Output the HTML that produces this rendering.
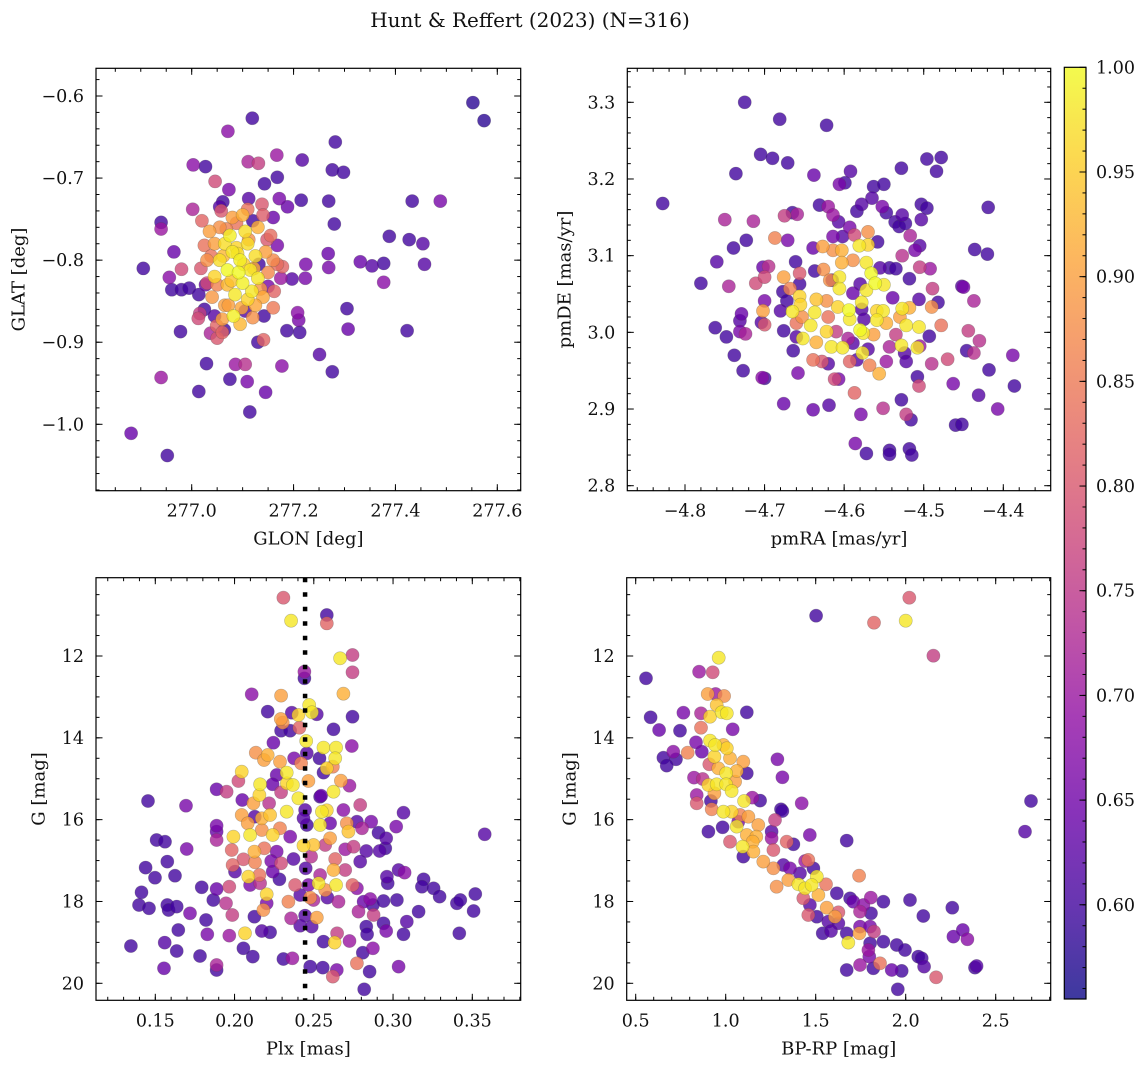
<!DOCTYPE html>
<html><head><meta charset="utf-8"><title>Hunt & Reffert (2023)</title>
<style>
html,body{margin:0;padding:0;background:#fff;}
svg{display:block;font-family:"DejaVu Serif","Liberation Serif",serif;}
</style></head>
<body>
<svg id="fig" xmlns="http://www.w3.org/2000/svg" width="1148" height="1067" viewBox="0 0 1148 1067">
<rect x="0" y="0" width="1148" height="1067" fill="#fff"/>
<text x="530" y="27" font-size="20" text-anchor="middle" fill="#111">Hunt &amp; Reffert (2023) (N=316)</text>
</svg>
<script>
// ===== Panel 1: GLON / GLAT =====
const p1Glon=[277.552,277.574,277.119,277.071,277.282,277.003,277.027,277.111,277.131,277.167,
277.217,277.276,277.298,277.046,277.168,277.143,277.073,277.433,277.488,277.269,
277.215,277.002,277.061,277.138,277.172,277.188,277.280,276.940,276.940,277.388,
277.427,277.454,277.457,277.377,277.354,277.331,277.377,277.268,277.269,277.224,
277.223,277.197,276.905,276.965,276.956,276.980,276.961,276.980,276.995,277.014,
277.027,277.305,277.307,277.423,276.978,277.016,277.013,277.037,277.049,277.064,
277.141,277.187,277.212,277.210,277.208,277.251,277.276,277.177,277.029,277.086,
277.105,277.075,277.109,276.940,277.014,277.145,277.114,276.881,276.952,
277.095,277.080,277.110,277.070,277.115,277.100,277.125,277.085,277.110,277.055,277.130,277.075,277.105,277.118,277.045,277.082,277.065,277.092,
277.045,277.055,277.130,277.145,277.150,277.140,277.065,277.040,277.030,277.100,277.080,277.120,277.095,277.060,277.160,277.035,277.070,277.125,
277.020,277.025,277.018,277.155,277.162,277.140,277.110,277.058,277.168,277.178,277.160,277.050,
277.055,277.120,277.160,277.142,277.045,277.130,277.168,277.025,
277.088,277.102,277.078,277.122,277.062,277.098,277.135,277.050,277.112,277.072,277.090,
277.038,277.148,277.105,277.068,277.132,277.030,277.150,277.088,277.112,277.060,277.175];
const p1Glat=[-0.608,-0.630,-0.627,-0.643,-0.656,-0.684,-0.686,-0.680,-0.682,-0.672,
-0.678,-0.690,-0.693,-0.704,-0.699,-0.707,-0.714,-0.728,-0.728,-0.728,
-0.727,-0.738,-0.729,-0.732,-0.725,-0.735,-0.756,-0.754,-0.762,-0.771,
-0.775,-0.780,-0.805,-0.804,-0.807,-0.802,-0.827,-0.792,-0.809,-0.805,
-0.822,-0.823,-0.810,-0.790,-0.821,-0.811,-0.836,-0.836,-0.834,-0.842,
-0.830,-0.859,-0.884,-0.886,-0.887,-0.865,-0.871,-0.889,-0.880,-0.885,
-0.897,-0.886,-0.888,-0.873,-0.864,-0.915,-0.936,-0.929,-0.926,-0.927,
-0.927,-0.945,-0.948,-0.943,-0.960,-0.961,-0.985,-1.011,-1.038,
-0.800,-0.790,-0.780,-0.812,-0.812,-0.828,-0.795,-0.842,-0.848,-0.800,-0.822,-0.770,-0.765,-0.838,-0.820,-0.868,-0.780,-0.815,
-0.780,-0.760,-0.760,-0.790,-0.815,-0.845,-0.855,-0.845,-0.800,-0.745,-0.748,-0.870,-0.878,-0.872,-0.800,-0.765,-0.830,-0.855,
-0.752,-0.782,-0.810,-0.770,-0.838,-0.745,-0.738,-0.740,-0.805,-0.808,-0.858,-0.895,
-0.735,-0.752,-0.748,-0.868,-0.868,-0.900,-0.782,-0.860,
-0.785,-0.805,-0.825,-0.810,-0.795,-0.858,-0.835,-0.830,-0.775,-0.855,-0.792,
-0.795,-0.775,-0.862,-0.762,-0.805,-0.828,-0.832,-0.755,-0.725,-0.888,-0.822];
const p1Prob=[.58,.58,.6,.68,.6,.68,.6,.72,.76,.7,
.62,.6,.6,.78,.6,.6,.66,.6,.66,.6,
.6,.72,.6,.8,.66,.64,.6,.6,.7,.6,
.6,.62,.62,.6,.62,.64,.68,.64,.66,.66,
.66,.62,.6,.64,.68,.78,.6,.6,.6,.6,
.64,.6,.64,.6,.6,.76,.78,.72,.82,.6,
.82,.6,.6,.66,.68,.62,.6,.68,.6,.7,
.74,.6,.66,.7,.6,.64,.6,.64,.6,
.99,.98,.97,1,.98,.99,.97,.98,.96,.97,.98,.99,.97,.98,.96,.99,.97,1,
.9,.88,.92,.9,.87,.91,.9,.89,.88,.92,.9,.88,.93,.9,.87,.9,.93,.91,
.82,.84,.8,.83,.82,.81,.84,.8,.83,.82,.85,.8,
.62,.6,.64,.6,.62,.6,.66,.6,
.96,.95,.94,.92,.93,.91,.89,.86,.88,.9,.97,
.84,.8,.62,.86,.6,.78,.66,.84,.62,.82,.7];

// ===== Panel 2: pmRA / pmDE =====
const p2PmRA=[-4.725,-4.681,-4.622,-4.705,-4.690,-4.671,-4.736,-4.638,-4.592,-4.528,
-4.496,-4.478,-4.484,-4.828,-4.419,-4.606,-4.599,-4.563,-4.550,-4.565,
-4.578,-4.631,-4.620,-4.584,-4.552,-4.547,-4.527,-4.503,-4.496,-4.503,
-4.536,-4.531,-4.523,-4.750,-4.714,-4.675,-4.659,-4.665,-4.614,-4.607,
-4.593,-4.517,-4.687,-4.671,-4.723,-4.739,-4.614,-4.602,-4.587,-4.570,
-4.558,-4.639,-4.627,-4.614,-4.603,-4.581,-4.570,-4.505,-4.511,-4.527,
-4.436,-4.420,-4.760,-4.661,-4.603,-4.589,-4.572,-4.626,-4.637,-4.702,
-4.695,-4.555,-4.543,-4.535,-4.505,-4.492,-4.566,-4.780,-4.745,-4.711,
-4.700,-4.676,-4.656,-4.615,-4.606,-4.606,-4.618,-4.668,-4.656,-4.677,
-4.561,-4.550,-4.518,-4.489,-4.452,-4.450,-4.580,-4.572,-4.589,-4.539,
-4.506,-4.482,-4.437,-4.700,-4.672,-4.656,-4.635,-4.622,-4.655,-4.578,
-4.578,-4.608,-4.702,-4.680,-4.665,-4.637,-4.594,-4.559,-4.551,-4.527,
-4.518,-4.490,-4.653,-4.620,-4.593,-4.575,-4.559,-4.530,-4.729,-4.731,
-4.700,-4.704,-4.660,-4.642,-4.547,-4.522,-4.506,-4.478,-4.762,-4.748,
-4.731,-4.724,-4.676,-4.660,-4.622,-4.610,-4.580,-4.576,-4.563,-4.535,
-4.493,-4.444,-4.430,-4.652,-4.635,-4.616,-4.602,-4.595,-4.589,-4.577,
-4.570,-4.543,-4.528,-4.524,-4.508,-4.505,-4.738,-4.664,-4.446,-4.437,
-4.388,-4.639,-4.628,-4.620,-4.593,-4.584,-4.568,-4.556,-4.547,-4.522,
-4.490,-4.470,-4.727,-4.703,-4.700,-4.658,-4.612,-4.607,-4.508,-4.506,
-4.463,-4.418,-4.386,-4.587,-4.431,-4.676,-4.639,-4.619,-4.579,-4.551,
-4.528,-4.522,-4.516,-4.407,-4.460,-4.452,-4.586,-4.572,-4.543,-4.543,
-4.518,-4.515];
const p2PmDE=[3.300,3.278,3.270,3.232,3.227,3.221,3.207,3.205,3.210,3.214,
3.226,3.228,3.210,3.168,3.163,3.193,3.195,3.190,3.193,3.175,
3.167,3.166,3.164,3.158,3.164,3.156,3.153,3.167,3.162,3.147,
3.144,3.138,3.142,3.147,3.145,3.152,3.154,3.156,3.153,3.144,
3.137,3.126,3.123,3.120,3.120,3.110,3.125,3.125,3.127,3.131,
3.118,3.110,3.112,3.107,3.107,3.113,3.114,3.113,3.107,3.100,
3.108,3.102,3.092,3.092,3.091,3.094,3.091,3.082,3.080,3.085,
3.086,3.084,3.084,3.083,3.085,3.083,3.077,3.064,3.060,3.064,
3.072,3.072,3.077,3.068,3.072,3.057,3.068,3.057,3.063,3.053,
3.064,3.062,3.070,3.057,3.060,3.059,3.063,3.055,3.051,3.045,
3.043,3.039,3.041,3.041,3.041,3.047,3.043,3.041,3.036,3.039,
3.030,3.033,3.028,3.028,3.027,3.026,3.029,3.028,3.028,3.031,
3.032,3.033,3.020,3.020,3.017,3.017,3.016,3.020,3.024,3.015,
3.010,3.013,3.012,3.009,3.012,3.009,3.007,3.009,3.006,2.994,
3.001,2.998,3.002,2.994,3.001,3.001,3.003,2.999,2.997,2.997,
2.995,3.002,2.989,2.992,2.987,2.981,2.980,2.992,2.986,2.973,
2.978,2.981,2.983,2.973,2.980,2.982,2.970,2.976,2.976,2.973,
2.970,2.964,2.962,2.959,2.962,2.964,2.957,2.946,2.962,2.962,
2.959,2.965,2.950,2.941,2.940,2.947,2.939,2.939,2.942,2.930,
2.933,2.951,2.930,2.921,2.918,2.907,2.899,2.905,2.893,2.901,
2.912,2.893,2.886,2.900,2.879,2.880,2.855,2.842,2.846,2.841,
2.848,2.840];
const p2Prob=[.6,.6,.6,.6,.6,.6,.6,.64,.62,.6,
.6,.6,.6,.6,.6,.66,.6,.6,.6,.62,
.62,.6,.7,.6,.66,.6,.62,.6,.6,.62,
.6,.6,.6,.72,.72,.76,.72,.6,.7,.62,
.66,.72,.86,.66,.6,.6,.66,.62,.78,.88,
.6,.64,.9,.88,.92,.98,.96,.62,.66,.74,
.6,.6,.62,.6,.92,.88,.98,.88,.6,.64,
.74,.62,.6,.6,.76,.7,1.0,.6,.72,.78,
.78,.9,.8,.62,.98,.98,.88,.86,.6,.6,
1.0,.98,.6,.76,.62,.66,.62,.98,.64,.64,
.62,.6,.72,.66,.6,.96,.94,.88,.96,.98,
.62,.96,.9,.62,.98,.98,1.0,.96,.98,.98,
.92,.88,.88,.84,.98,.62,.98,.9,.64,.62,
.8,.62,.84,.98,.92,.98,.98,.84,.6,.6,
.66,.72,.6,.62,.96,.76,1.0,.98,.9,.76,
.6,.76,.74,.98,.92,.98,.98,.72,.62,.98,
.62,.72,.98,.62,.98,.7,.6,.6,.6,.74,
.66,.84,.8,.62,.82,.62,.86,.92,.7,.62,
.74,.78,.6,.68,.6,.66,.78,.66,.6,.78,
.66,.6,.6,.82,.62,.64,.64,.62,.66,.74,
.6,.76,.6,.66,.6,.6,.66,.6,.6,.6,
.6,.6];

// ===== Panel 3: Plx / G =====
const p3Plx=[.2308,.2357,.2582,.2582,.2666,.2744,.2744,.2441,.2441,.2108,
.2294,.2687,.2209,.2361,.2471,.2488,.2519,.2403,.2744,.2292,
.2304,.2294,.2351,.2409,.2624,.2245,.2452,.2134,.2209,.2186,
.2287,.2376,.2420,.2456,.2561,.2641,.2536,.2635,.2620,.2740,
.2045,.2266,.2329,.2561,.2582,.2024,.2161,.2240,.2330,.2368,
.2466,.2671,.2725,.1887,.1950,.2157,.2294,.2403,.2546,.2624,
.1454,.1694,.2049,.2119,.2218,.2329,.2045,.2172,.2224,.2128,
.2445,.2551,.2582,.2687,.2540,.2793,.3066,.1887,.1887,.2083,
.1993,.2098,.2172,.2241,.2287,.2351,.2435,.2456,.2540,.2603,
.2708,.2718,.2772,.2862,.2804,.2908,.2957,.3020,.3578,.1508,
.1561,.1698,.1887,.1982,.2125,.2188,.2266,.2435,.2498,.2572,
.2603,.2698,.2751,.2831,.2915,.2951,.1576,.1439,.2056,.2129,
.1988,.2231,.2294,.2372,.2483,.2635,.2793,.1498,.1624,.2003,
.2087,.2157,.2241,.2283,.2449,.2540,.2624,.2698,.2961,.2966,
.3035,.3073,.3193,.1413,.1793,.1887,.1967,.2098,.2161,.2382,
.2466,.2530,.2572,.2641,.2744,.2772,.3182,.3256,.3519,.1397,
.1460,.1576,.1584,.1635,.1866,.1946,.2203,.2203,.2340,.2414,
.2477,.2498,.2586,.2656,.2814,.2856,.2873,.2940,.3024,.3294,
.3403,.3424,.3508,.3161,.1719,.1820,.1986,.2125,.2182,.2357,
.2445,.2519,.2782,.2877,.2940,.3087,.1645,.1828,.1967,.2066,
.2172,.2224,.2414,.2487,.2647,.2831,.2836,.2957,.3066,.3418,
.1346,.1559,.1635,.1782,.2056,.2115,.2308,.2365,.2561,.2631,
.2725,.2809,.2873,.1555,.1887,.1887,.2477,.2557,.2645,.2620,
.2772,.2852,.3035,.2818];
const p3G=[10.574,11.136,10.998,11.202,12.057,11.976,12.399,12.383,12.546,12.937,
12.969,12.921,13.360,13.385,13.198,13.377,13.426,13.442,13.483,13.540,
13.629,13.825,13.825,13.752,13.792,14.118,14.077,14.363,14.420,14.542,
14.583,14.501,14.623,14.379,14.240,14.240,14.501,14.501,14.705,14.200,
14.827,14.908,14.851,14.851,14.745,15.055,15.136,15.136,15.112,15.153,
15.055,15.047,15.169,15.259,15.316,15.397,15.332,15.479,15.414,15.316,
15.544,15.658,15.519,15.601,15.601,15.805,15.886,15.968,15.886,15.927,
15.764,15.805,15.772,15.764,15.438,15.642,15.829,16.147,16.293,16.090,
16.416,16.375,16.253,16.375,16.212,16.416,15.968,16.130,16.130,16.090,
16.090,16.293,16.049,16.049,16.212,16.318,16.457,16.171,16.358,16.497,
16.538,16.717,16.497,16.741,16.782,16.701,16.782,16.635,16.619,16.619,
16.456,16.725,16.660,16.766,16.766,16.701,17.026,17.173,16.969,17.043,
17.108,17.010,17.067,16.961,16.904,16.961,17.026,17.418,17.369,17.271,
17.394,17.352,17.271,17.458,17.189,17.352,17.230,17.230,17.394,17.556,
17.230,17.295,17.458,17.776,17.654,17.694,17.638,17.597,17.556,17.597,
17.597,17.556,17.719,17.597,17.597,17.678,17.638,17.678,17.817,18.085,
18.167,18.085,18.208,18.126,17.963,18.045,17.825,18.045,18.005,17.841,
17.906,17.963,17.906,18.005,18.005,17.939,18.085,17.988,17.963,17.882,
18.045,17.963,18.232,18.248,18.289,18.452,18.330,18.371,18.208,18.411,
18.346,18.395,18.248,18.330,18.534,18.493,18.697,18.802,18.835,18.778,
18.721,18.754,18.591,18.615,18.778,18.615,18.802,18.721,18.802,18.778,
19.088,19.006,19.210,19.332,19.145,19.348,19.405,19.389,18.980,19.006,
18.965,19.251,19.145,19.633,19.552,19.674,19.593,19.617,19.674,19.837,
19.511,19.715,19.593,20.147];
const p3Prob=[.8,.98,.6,.82,.98,.76,.76,.7,.6,.68,
.9,.92,.6,.62,.98,.98,.62,.96,.6,.9,
.88,.6,.6,.82,.6,.64,.98,.88,.92,.9,
.9,.66,.86,.62,.98,.98,.6,.98,.86,.68,
.96,.64,.98,.6,.96,.78,.98,.64,.96,.98,
.9,.9,.7,.64,.76,.96,.76,.98,.64,.98,
.6,.66,.64,.9,.74,.98,.9,.92,.94,.62,
.62,.98,.96,.68,.6,.76,.62,.66,.64,.9,
.96,.98,.88,.96,.86,.66,.62,.6,.98,.64,
.88,.94,.62,.66,.72,.6,.62,.66,.62,.6,
.6,.66,.72,.82,.92,.84,.66,.96,.94,.76,
.9,.7,.76,.62,.62,.6,.6,.6,.8,.86,
.82,.66,.78,.62,.74,.82,.62,.6,.6,.62,
.96,.84,.64,.6,.62,.72,.92,.76,.62,.6,
.62,.68,.6,.6,.6,.64,.78,.66,.74,.8,
.66,.98,.88,.98,.82,.68,.6,.6,.6,.6,
.6,.6,.6,.6,.6,.74,.96,.66,.86,.62,
.88,.72,.62,.72,.64,.68,.6,.6,.6,.6,
.6,.6,.6,.6,.66,.6,.76,.6,.88,.72,
.62,.9,.72,.76,.6,.62,.6,.66,.7,.96,
.62,.6,.62,.62,.76,.6,.6,.66,.6,.6,
.6,.62,.6,.6,.6,.6,.6,.7,.6,.96,
.7,.6,.68,.64,.72,.6,.6,.6,.66,.8,
.84,.6,.66,.6];
const plxMean=0.2445;

// ===== Panel 4: BP-RP / G =====
const p4BpRp=[2.020,1.502,1.824,2.000,2.154,0.961,0.557,0.852,0.928,0.900,
0.944,0.991,0.950,0.913,0.978,1.006,0.765,0.863,0.583,1.117,
0.630,0.746,0.863,1.039,0.835,0.913,0.941,0.987,1.006,0.867,
0.709,0.789,0.654,0.724,0.672,0.937,1.024,1.098,0.909,0.959,
1.061,1.002,1.117,1.287,1.315,0.824,0.872,0.904,0.950,1.002,
1.052,1.033,0.937,0.839,0.839,1.102,1.148,1.191,1.422,0.918,
0.922,0.987,1.033,1.080,1.126,1.307,1.315,1.274,0.983,1.061,
1.070,1.181,0.904,1.117,1.170,1.024,1.094,1.150,1.154,1.255,
1.255,1.339,1.376,1.467,1.672,1.098,1.209,1.265,1.265,1.320,
1.357,1.413,1.441,1.459,1.487,1.506,1.283,1.348,1.404,1.441,
1.478,1.557,1.741,1.431,1.515,1.468,1.561,1.617,1.691,1.709,
1.626,1.607,1.459,1.506,1.570,1.626,1.806,1.876,1.765,1.746,
1.807,2.024,2.259,2.098,1.539,1.585,1.672,1.746,1.743,1.681,
1.802,1.824,1.876,1.802,1.793,1.798,1.950,1.996,2.070,2.089,
2.102,1.746,1.820,1.857,1.922,1.978,1.672,2.169,1.956,2.265,
2.317,2.343,2.385,2.394,2.696,2.663];
const p4G=[10.574,11.014,11.185,11.136,11.992,12.041,12.546,12.383,12.399,12.929,
12.929,12.978,13.198,13.483,13.377,13.401,13.385,13.401,13.499,13.377,
13.809,13.825,13.752,13.792,14.110,14.069,14.175,14.175,14.257,14.338,
14.338,14.363,14.485,14.526,14.680,14.461,14.501,14.583,14.648,14.745,
14.811,14.868,14.868,14.526,14.965,14.973,15.006,15.153,15.136,15.136,
15.071,15.299,15.356,15.397,15.601,15.544,15.462,15.535,15.601,15.544,
15.748,15.805,15.805,15.886,15.927,15.748,15.789,16.008,16.187,16.171,
16.049,16.130,16.293,16.375,16.416,16.538,16.660,16.538,16.782,16.293,
16.456,16.538,16.603,16.375,16.513,16.904,17.026,17.189,16.741,17.108,
17.189,17.311,17.010,16.985,17.189,17.393,17.638,17.475,17.581,17.678,
17.597,17.581,17.369,17.923,17.841,18.085,18.151,17.800,17.923,18.005,
18.265,18.371,18.330,18.371,18.493,18.534,17.906,18.005,18.085,18.248,
18.289,17.963,18.151,18.354,18.778,18.721,18.778,18.615,18.778,19.006,
18.615,18.737,18.982,19.022,19.185,19.348,19.063,19.185,19.348,19.389,
19.593,19.552,19.633,19.511,19.674,19.698,19.674,19.853,20.147,18.859,
18.697,18.925,19.617,19.576,15.544,16.293];
const p4Prob=[.8,.6,.82,.98,.76,.98,.6,.7,.78,.9,
.7,.88,.94,.96,.98,.98,.66,.72,.6,.6,
.64,.6,.84,.66,.66,.98,.98,.92,.96,.64,
.68,.86,.6,.6,.6,.96,.92,.9,.8,.92,
.92,.98,.6,.66,.66,.7,.74,.96,.98,.98,
.9,.98,.9,.7,.8,.98,.7,.6,.68,.6,
.86,.98,.96,.86,.9,.6,.6,.76,.6,.98,
.66,.9,.6,.92,.92,.8,.98,.92,.92,.62,
.7,.82,.6,.66,.6,.6,.9,.88,.8,.62,
.66,.62,.7,.84,.6,.98,.88,.9,.98,.98,
.98,.84,.86,.8,.92,.62,.9,.6,.6,.64,
.8,.9,.8,.6,.62,.62,.7,.6,.68,.72,
.6,.6,.6,.6,.6,.62,.6,.66,.9,.98,
.66,.76,.6,.6,.7,.66,.6,.6,.6,.6,
.62,.7,.6,.84,.64,.6,.6,.8,.6,.64,
.64,.68,.6,.62,.6,.62];

// ===== Tick labels =====
const p1XTicks=[277.0,277.2,277.4,277.6], p1XLabels=["277.0","277.2","277.4","277.6"];
const p1YTicks=[-0.6,-0.7,-0.8,-0.9,-1.0], p1YLabels=["\u22120.6","\u22120.7","\u22120.8","\u22120.9","\u22121.0"];
const p2XTicks=[-4.8,-4.7,-4.6,-4.5,-4.4], p2XLabels=["\u22124.8","\u22124.7","\u22124.6","\u22124.5","\u22124.4"];
const p2YTicks=[3.3,3.2,3.1,3.0,2.9,2.8], p2YLabels=["3.3","3.2","3.1","3.0","2.9","2.8"];
const p3XTicks=[0.15,0.20,0.25,0.30,0.35], p3XLabels=["0.15","0.20","0.25","0.30","0.35"];
const gTicks=[12,14,16,18,20], gLabels=["12","14","16","18","20"];
const p4XTicks=[0.5,1.0,1.5,2.0,2.5], p4XLabels=["0.5","1.0","1.5","2.0","2.5"];
const cbTicks=[1.00,0.95,0.90,0.85,0.80,0.75,0.70,0.65,0.60], cbLabels=["1.00","0.95","0.90","0.85","0.80","0.75","0.70","0.65","0.60"];
const cbMin=0.555, cbMax=1.0;

const NS="http://www.w3.org/2000/svg";
const svg=document.getElementById('fig');
function mk(tag,attrs,parent){const e=document.createElementNS(NS,tag);for(const k in attrs)e.setAttribute(k,attrs[k]);(parent||svg).appendChild(e);return e;}
function lin(d0,p0,d1,p1){const f=v=>p0+(v-d0)*(p1-p0)/(d1-d0);f.inv=p=>d0+(p-p0)*(d1-d0)/(p1-p0);return f;}

const plasmaStops=[[0,"#0d0887"],[0.1,"#41049d"],[0.2,"#6a00a8"],[0.3,"#8f0da4"],[0.4,"#b12a90"],[0.5,"#cc4778"],[0.6,"#e16462"],[0.7,"#f2844b"],[0.8,"#fca636"],[0.9,"#fcce25"],[1,"#f0f921"]];
function hex(h){return [parseInt(h.slice(1,3),16),parseInt(h.slice(3,5),16),parseInt(h.slice(5,7),16)];}
function plasma(t){t=Math.max(0,Math.min(1,t));for(let i=1;i<plasmaStops.length;i++){if(t<=plasmaStops[i][0]){const a=plasmaStops[i-1],b=plasmaStops[i];const u=(t-a[0])/(b[0]-a[0]);const ca=hex(a[1]),cb=hex(b[1]);return "rgb("+ca.map((c,j)=>Math.round(c+(cb[j]-c)*u)).join(",")+")";}}return plasmaStops[10][1];}
function pcol(v){return plasma((v-cbMin)/(cbMax-cbMin));}

const panels=[
 {id:"glon-glat",box:[96,68.3,520.7,490.7],sx:lin(277.0,191.7,277.6,497.3),sy:lin(-0.6,96,-1.0,424.3),
  xs:p1Glon,ys:p1Glat,ps:p1Prob,xt:p1XTicks,xl:p1XLabels,xm:0.05,yt:p1YTicks,yl:p1YLabels,ym:0.02,
  xlab:"GLON [deg]",ylab:"GLAT [deg]"},
 {id:"pmra-pmde",box:[627.3,68.3,1050.7,490.7],sx:lin(-4.8,685,-4.4,1003.3),sy:lin(3.3,102.3,2.8,485.7),
  xs:p2PmRA,ys:p2PmDE,ps:p2Prob,xt:p2XTicks,xl:p2XLabels,xm:0.02,yt:p2YTicks,yl:p2YLabels,ym:0.02,
  xlab:"pmRA [mas/yr]",ylab:"pmDE [mas/yr]"},
 {id:"plx-g",box:[96,577.7,520.7,1000.3],sx:lin(0.15,155.3,0.35,472.3),sy:lin(12,656,20,983.3),
  xs:p3Plx,ys:p3G,ps:p3Prob,xt:p3XTicks,xl:p3XLabels,xm:0.01,yt:gTicks,yl:gLabels,ym:0.5,
  xlab:"Plx [mas]",ylab:"G [mag]"},
 {id:"bprp-g",box:[626.7,577.7,1050.7,1000.3],sx:lin(0.5,635.7,2.5,995.7),sy:lin(12,656,20,983.3),
  xs:p4BpRp,ys:p4G,ps:p4Prob,xt:p4XTicks,xl:p4XLabels,xm:0.1,yt:gTicks,yl:gLabels,ym:0.5,
  xlab:"BP-RP [mag]",ylab:"G [mag]"}
];

const defs=mk('defs',{});
panels.forEach((P,pi)=>{
 const [l,t,r,b]=P.box;
 const cp=mk('clipPath',{id:'clip'+pi},defs);
 mk('rect',{x:l,y:t,width:r-l,height:b-t},cp);
 const g=mk('g',{});
 
 
 const pts=mk('g',{'clip-path':'url(#clip'+pi+')'},g);
 
 
 const n=Math.min(P.xs.length,P.ys.length,P.ps.length);
 const idx=[];for(let i=0;i<n;i++)idx.push(i);
 idx.sort((a,c)=>P.ps[a]-P.ps[c]);
 idx.forEach(i=>{
  const c=mk('circle',{cx:P.sx(P.xs[i]).toFixed(1),cy:P.sy(P.ys[i]).toFixed(1),r:6.6,fill:pcol(P.ps[i]),'fill-opacity':0.8,stroke:'#4a4a4a','stroke-opacity':0.35,'stroke-width':0.6},pts);
  
  
 });
 if(pi===2){
  const ln=mk('line',{x1:P.sx(plxMean),x2:P.sx(plxMean),y1:t,y2:b,stroke:'#000','stroke-width':4.5,'stroke-dasharray':'4.5 10'},g);
  
  
 }
 const fr=mk('rect',{x:l,y:t,width:r-l,height:b-t,fill:'none',stroke:'#000','stroke-width':1.2},g);
 
 
 const tk=mk('g',{stroke:'#000','stroke-width':1},g);
 
 
 const x0=Math.min(P.sx.inv(l),P.sx.inv(r)),x1=Math.max(P.sx.inv(l),P.sx.inv(r));
 for(let v=Math.ceil(x0/P.xm-1e-6)*P.xm;v<=x1+1e-9;v+=P.xm){const px=P.sx(v);if(px<l+0.5||px>r-0.5)continue;
   mk('line',{x1:px,x2:px,y1:b,y2:b-3.5},tk);mk('line',{x1:px,x2:px,y1:t,y2:t+3.5},tk);}
 P.xt.forEach((v,k)=>{const px=P.sx(v);mk('line',{x1:px,x2:px,y1:b,y2:b-6.5},tk);mk('line',{x1:px,x2:px,y1:t,y2:t+6.5},tk);
   const tx=mk('text',{x:px,y:b+26,'font-size':17.5,'text-anchor':'middle',fill:'#111'},g);tx.textContent=P.xl[k];
   
   });
 const y0=Math.min(P.sy.inv(t),P.sy.inv(b)),y1=Math.max(P.sy.inv(t),P.sy.inv(b));
 for(let v=Math.ceil(y0/P.ym-1e-6)*P.ym;v<=y1+1e-9;v+=P.ym){const py=P.sy(v);if(py<t+0.5||py>b-0.5)continue;
   mk('line',{x1:l,x2:l+3.5,y1:py,y2:py},tk);mk('line',{x1:r,x2:r-3.5,y1:py,y2:py},tk);}
 let minLeft=l;
 P.yt.forEach((v,k)=>{const py=P.sy(v);mk('line',{x1:l,x2:l+6.5,y1:py,y2:py},tk);mk('line',{x1:r,x2:r-6.5,y1:py,y2:py},tk);
   const tx=mk('text',{x:l-12,y:py+6,'font-size':17.5,'text-anchor':'end',fill:'#111'},g);tx.textContent=P.yl[k];
   
   
   minLeft=Math.min(minLeft,l-12-tx.getComputedTextLength());});
 const xl=mk('text',{x:(l+r)/2,y:b+54,'font-size':18,'text-anchor':'middle',fill:'#111'},g);xl.textContent=P.xlab;
 
 
 const yx=minLeft-17,ym=(t+b)/2;
 const yl=mk('text',{x:yx,y:ym,'font-size':18,'text-anchor':'middle',fill:'#111',transform:'rotate(-90 '+yx+' '+ym+')'},g);yl.textContent=P.ylab;
 
 
});

// ===== Colorbar =====
const cb=mk('g',{});


const cbL=1064.3,cbR=1086,cbT=67.3,cbB=999;
const cs=lin(cbMax,cbT,cbMin,cbB);
const lg=mk('linearGradient',{id:'cbgrad',x1:0,y1:1,x2:0,y2:0},defs);
for(let i=0;i<=20;i++){const u=i/20;mk('stop',{offset:u,'stop-color':plasma(u),'stop-opacity':0.8},lg);}
mk('rect',{x:cbL,y:cbT,width:cbR-cbL,height:cbB-cbT,fill:'url(#cbgrad)'},cb);
mk('rect',{x:cbL,y:cbT,width:cbR-cbL,height:cbB-cbT,fill:'none',stroke:'#000','stroke-width':1.2},cb);
for(let v=0.56;v<=1.0001;v+=0.01){const py=cs(v);if(py<cbT+0.5||py>cbB-0.5)continue;mk('line',{x1:cbR,x2:cbR-3.5,y1:py,y2:py,stroke:'#000','stroke-width':1},cb);}
cbTicks.forEach((v,k)=>{const py=cs(v);mk('line',{x1:cbR,x2:cbR-6.5,y1:py,y2:py,stroke:'#000','stroke-width':1},cb);
 const tx=mk('text',{x:cbR+10,y:py+6,'font-size':17.5,fill:'#111'},cb);tx.textContent=cbLabels[k];
 
 });
</script>
</body></html>
